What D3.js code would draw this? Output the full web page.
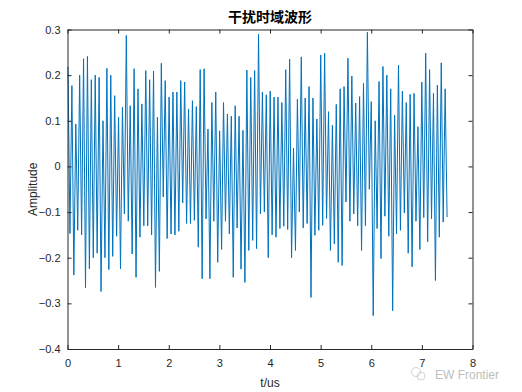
<!DOCTYPE html>
<html>
<head>
<meta charset="utf-8">
<script src="https://cdn.jsdelivr.net/npm/d3@7"></script>
<style>
    body { margin: 0; background: #fff; }
    svg { display: block; font-family: Arial, "Liberation Sans", sans-serif; }
    .tick text { font-size: 11px; fill: #262626; }
    .tick line, .domain { stroke: #262626; }
</style>
</head>
<body>
<div id="chart"></div>
<script>
// peak values read left to right (one per cycle)
var peaks = [
    0.218, 0.177, 0.093, 0.200, 0.236, 0.241, 0.190, 0.200, 0.195, 0.100,
    0.215, 0.200, 0.155, 0.108, 0.130, 0.287, 0.133, 0.214, 0.170, 0.137,
    0.210, 0.190, 0.209, 0.108, 0.226, 0.188, 0.152, 0.163, 0.163, 0.188,
    0.185, 0.126, 0.144, 0.131, 0.212, 0.214, 0.082, 0.140, 0.163, 0.078,
    0.140, 0.115, 0.110, 0.133, 0.110, 0.079, 0.211, 0.195, 0.210, 0.290,
    0.163, 0.157, 0.165, 0.152, 0.152, 0.140, 0.212, 0.235, 0.040, 0.147,
    0.240, 0.150, 0.175, 0.150, 0.104, 0.244, 0.248, 0.120, 0.090, 0.136,
    0.170, 0.175, 0.237, 0.198, 0.139, 0.153, 0.182, 0.294, 0.142, 0.100,
    0.186, 0.219, 0.200, 0.170, 0.112, 0.222, 0.165, 0.140, 0.158, 0.160,
    0.087, 0.185, 0.248, 0.212, 0.160, 0.178, 0.227, 0.170
];

// trough values, each one following the peak with the same index
var troughs = [
    -0.147, -0.238, -0.140, -0.150, -0.266, -0.224, -0.200, -0.190, -0.274, -0.200,
    -0.226, -0.197, -0.153, -0.224, -0.104, -0.120, -0.192, -0.243, -0.155, -0.130,
    -0.130, -0.150, -0.265, -0.230, -0.067, -0.158, -0.148, -0.150, -0.142, -0.080,
    -0.125, -0.125, -0.118, -0.177, -0.246, -0.115, -0.246, -0.120, -0.210, -0.182,
    -0.120, -0.148, -0.243, -0.135, -0.225, -0.254, -0.184, -0.162, -0.180, -0.104,
    -0.100, -0.200, -0.150, -0.155, -0.136, -0.131, -0.138, -0.200, -0.184, -0.100,
    -0.135, -0.125, -0.287, -0.151, -0.140, -0.129, -0.114, -0.184, -0.170, -0.210,
    -0.217, -0.078, -0.120, -0.104, -0.130, -0.184, -0.130, -0.050, -0.327, -0.136,
    -0.202, -0.109, -0.153, -0.316, -0.148, -0.140, -0.102, -0.190, -0.220, -0.120,
    -0.182, -0.112, -0.165, -0.115, -0.250, -0.155, -0.122, -0.111
];

var startTime = 0.01,   // us
    halfStep = 0.0384;  // us between a peak and the next trough

var xTicks = [0, 1, 2, 3, 4, 5, 6, 7, 8];
var yTicks = [-0.4, -0.3, -0.2, -0.1, 0, 0.1, 0.2, 0.3];

var titleText = '干扰时域波形',
    xLabel = 't/us',
    yLabel = 'Amplitude';

var width = 522,
    height = 392,
    margin = {top: 29.5, right: 49.5, bottom: 43, left: 67.5};

var samples = [];
peaks.forEach(function (p, i) {
    samples.push({t: startTime + 2 * i * halfStep, v: p});
    samples.push({t: startTime + (2 * i + 1) * halfStep, v: troughs[i]});
});

var svg = d3.select('#chart')
    .append('svg')
    .attr('width', width)
    .attr('height', height);

var x = d3.scaleLinear().domain([0, 8]).range([margin.left, width - margin.right]);
var y = d3.scaleLinear().domain([-0.4, 0.3]).range([height - margin.bottom, margin.top]);

// plot line
var line = d3.line()
    .x(function (d) { return x(d.t); })
    .y(function (d) { return y(d.v); });

svg.append('path')
    .datum(samples)
    .attr('fill', 'none')
    .attr('stroke', '#0072BD')
    .attr('stroke-width', 1)
    .attr('d', line);

// axes, ticks pointing inward on all four sides
var fmt = function (d) { return d3.format('')(+d.toFixed(1)); };

svg.append('g')
    .attr('transform', 'translate(0,' + y(-0.4) + ')')
    .call(d3.axisBottom(x).tickValues(xTicks).tickSizeInner(-4).tickSizeOuter(0).tickPadding(10))
    .call(function (g) { g.selectAll('text').attr('dy', '0.71em'); });

svg.append('g')
    .attr('transform', 'translate(0,' + y(0.3) + ')')
    .call(d3.axisTop(x).tickValues(xTicks).tickSizeInner(-4).tickSizeOuter(0).tickFormat(''));

svg.append('g')
    .attr('transform', 'translate(' + x(0) + ',0)')
    .call(d3.axisLeft(y).tickValues(yTicks).tickSizeInner(-4).tickSizeOuter(0).tickPadding(7).tickFormat(fmt));

svg.append('g')
    .attr('transform', 'translate(' + x(8) + ',0)')
    .call(d3.axisRight(y).tickValues(yTicks).tickSizeInner(-4).tickSizeOuter(0).tickFormat(''));

svg.selectAll('.tick line').attr('stroke', '#262626');

// labels
svg.append('text')
    .attr('x', (x(0) + x(8)) / 2)
    .attr('y', 22)
    .attr('text-anchor', 'middle')
    .style('font-family', '"Noto Sans CJK SC", sans-serif')
    .style('font-weight', 'bold')
    .style('font-size', '14px')
    .attr('fill', '#000')
    .text(titleText);

svg.append('text')
    .attr('x', (x(0) + x(8)) / 2)
    .attr('y', 387)
    .attr('text-anchor', 'middle')
    .style('font-size', '12px')
    .attr('fill', '#262626')
    .text(xLabel);

svg.append('text')
    .attr('transform', 'translate(37,' + ((y(-0.4) + y(0.3)) / 2) + ') rotate(-90)')
    .attr('text-anchor', 'middle')
    .style('font-size', '12px')
    .attr('fill', '#262626')
    .text(yLabel);

// watermark
var mark = svg.append('g').attr('transform', 'translate(418,374)').attr('opacity', 0.55);
mark.append('circle').attr('cx', -2).attr('cy', -2).attr('r', 4.5)
    .attr('fill', 'none').attr('stroke', '#999').attr('stroke-width', 0.8);
mark.append('circle').attr('cx', 3).attr('cy', 2).attr('r', 4)
    .attr('fill', 'none').attr('stroke', '#999').attr('stroke-width', 0.8);
mark.append('text')
    .attr('x', 17)
    .attr('y', 5)
    .style('font-size', '12px')
    .attr('fill', '#888')
    .text('EW Frontier');
</script>
</body>
</html>
